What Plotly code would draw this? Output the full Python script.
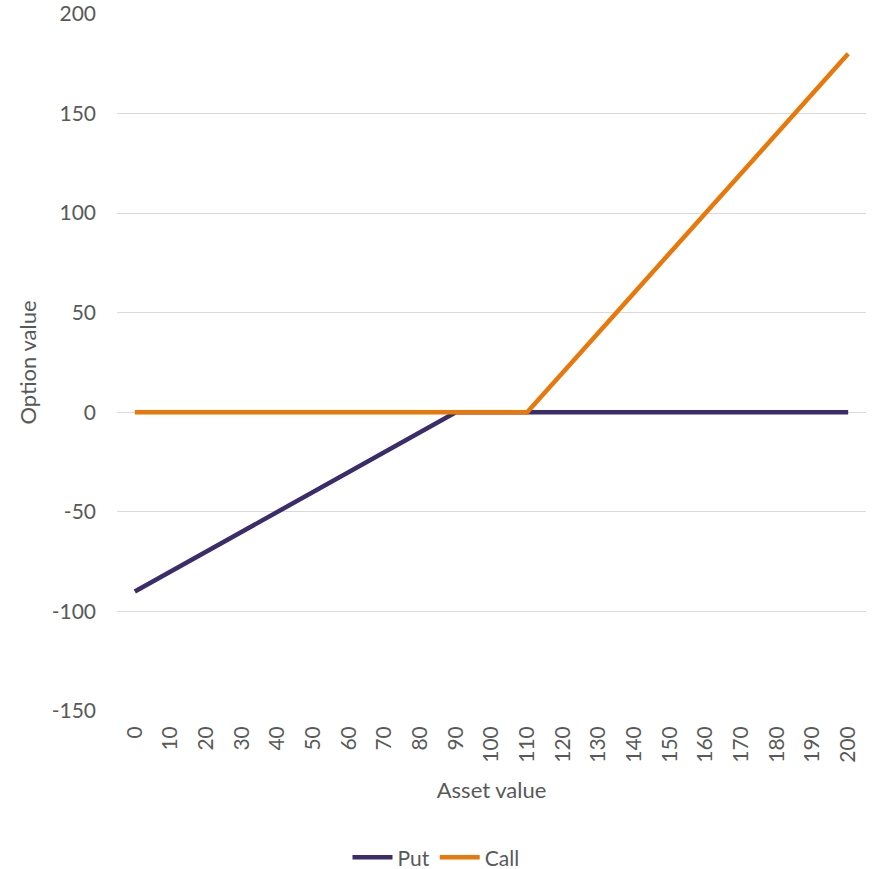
import plotly.graph_objects as go

# Asset values on the category axis
asset_values = [0, 10, 20, 30, 40, 50, 60, 70, 80, 90, 100,
                110, 120, 130, 140, 150, 160, 170, 180, 190, 200]
# Option payoffs at each asset value
put_values = [-90, -80, -70, -60, -50, -40, -30, -20, -10, 0, 0,
              0, 0, 0, 0, 0, 0, 0, 0, 0, 0]
call_values = [0, 0, 0, 0, 0, 0, 0, 0, 0, 0, 0,
               0, 20, 40, 60, 80, 100, 120, 140, 160, 180]
y_ticks = [-150, -100, -50, 0, 50, 100, 150, 200]
y_tick_text = [str(v) for v in y_ticks]

FONT = "Lato, Open Sans, sans-serif"
TEXT = "#595959"
x_labels = [str(v) for v in asset_values]

fig = go.Figure()
fig.add_trace(go.Scatter(x=x_labels, y=put_values, name="Put", mode="lines",
                         line=dict(color="#3B2C6B", width=4.5)))
fig.add_trace(go.Scatter(x=x_labels, y=call_values, name="Call", mode="lines",
                         line=dict(color="#E8780A", width=4.5)))

fig.update_layout(
    width=872, height=869,
    margin=dict(l=117, r=6, t=14, b=158, autoexpand=False),
    plot_bgcolor="white", paper_bgcolor="white",
    font=dict(family=FONT, size=21, color=TEXT),
    showlegend=True,
    legend=dict(orientation="h", xref="container", yref="container",
                x=0.5, xanchor="center", y=0.013, yanchor="middle",
                font=dict(size=21, color=TEXT), itemwidth=40,
                traceorder="normal"),
    xaxis=dict(type="category", range=[-0.5, len(asset_values) - 0.5],
               tickangle=-90, showgrid=False, automargin=False,
               showline=False, ticks="", ticklabelstandoff=10,
               tickfont=dict(size=21, color=TEXT),
               title=dict(text="Asset value", font=dict(size=22, color=TEXT),
                          standoff=20)),
    yaxis=dict(range=[-150, 200], tickvals=y_ticks, ticktext=y_tick_text,
               showgrid=True, automargin=False,
               gridcolor="#D9D9D9", gridwidth=1.3, zeroline=False,
               showline=False, ticks="", ticklabelstandoff=20,
               tickfont=dict(size=21, color=TEXT),
               title=dict(text="Option value", font=dict(size=22, color=TEXT),
                          standoff=8)),
)

fig.write_html("out.html")
